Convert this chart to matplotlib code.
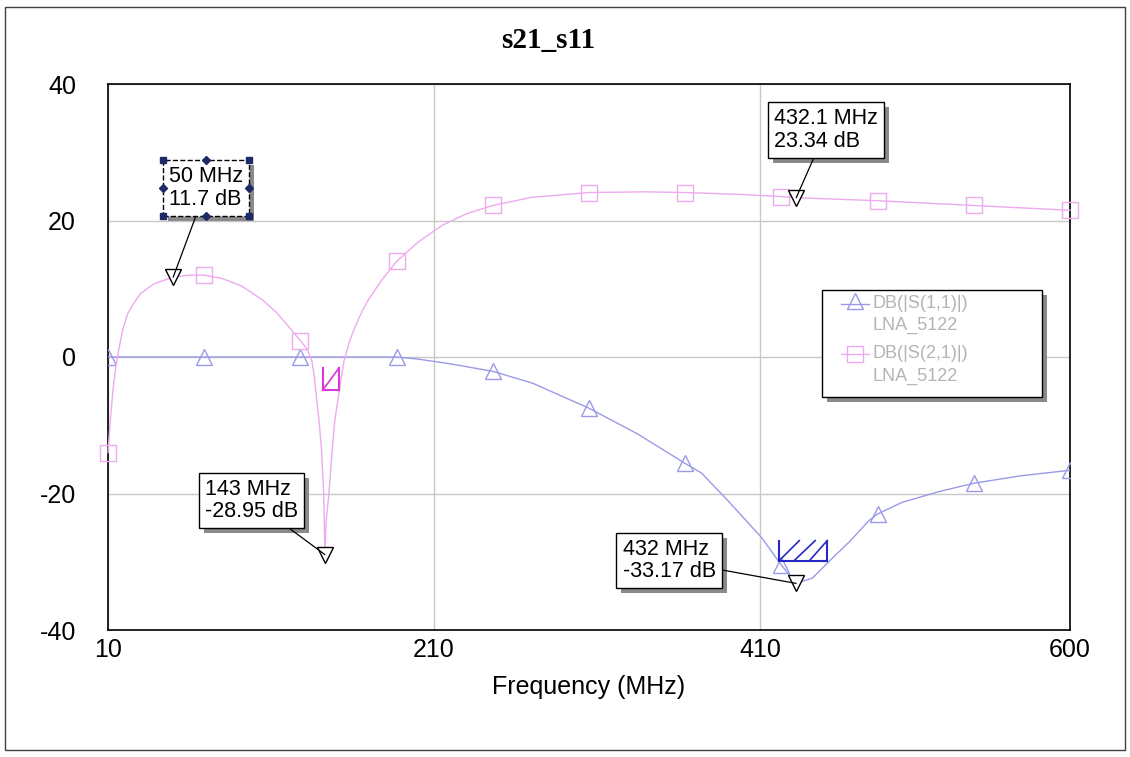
import matplotlib.pyplot as plt
import numpy as np
from matplotlib.patches import Rectangle
from matplotlib.lines import Line2D
from matplotlib.transforms import IdentityTransform

plt.rcParams['font.family'] = ['Liberation Sans', 'DejaVu Sans']
plt.rcParams['axes.unicode_minus'] = False

# DB(|S(2,1)|)
s21_freq = [10, 11.5, 13, 14.5, 16, 19, 22, 25, 30, 38, 45, 50, 60, 69, 80, 92, 104.5, 113, 121, 128,
            132, 135, 136.5, 138, 139.5, 141, 142.3, 143, 143.8, 145.5, 147.5, 149, 151, 153, 154.8,
            158, 161.5, 166, 170, 178, 187, 200, 215, 230, 246, 270, 305, 340, 364, 400, 423, 432.1,
            482, 541, 600]
s21_db = [-14, -9, -5, -2, 0.3, 4, 6.3, 7.6, 9.3, 10.7, 11.3, 11.7, 12.0, 12.0, 11.5, 10.4, 8.4, 6.6, 4.4, 2.4,
          1.2, -0.5, -2.8, -6.3, -9.5, -13.7, -20, -28.95, -24, -20, -13.7, -9.5, -6.3, -3.2, -0.5,
          2.2, 4.4, 6.8, 8.5, 11.3, 14.0, 16.8, 19.3, 21.0, 22.2, 23.4, 24.1, 24.2, 24.1, 23.8, 23.5, 23.34,
          22.9, 22.2, 21.5]

# DB(|S(1,1)|)
s11_freq = [10, 69, 128, 187, 200, 220, 246, 270, 305, 335, 364, 374, 390, 411, 423, 432, 442, 455, 465,
            477, 482, 497, 520, 541, 570, 600]
s11_db = [0, 0, 0, 0, -0.3, -1.0, -2.1, -3.8, -7.5, -11.3, -15.6, -17.0, -21.0, -26.5, -30.5, -33.17, -32.4,
          -29.3, -27.0, -23.9, -23.0, -21.3, -19.7, -18.5, -17.4, -16.6]

# frequencies where the trace symbols sit
symbol_freq = [10, 69, 128, 187, 246, 305, 364, 423, 482, 541, 600]

# marker readouts: (freq, dB, label)
readouts = [(50, 11.7, '50 MHz\n11.7 dB'),
            (143, -28.95, '143 MHz\n-28.95 dB'),
            (432.1, 23.34, '432.1 MHz\n23.34 dB'),
            (432, -33.17, '432 MHz\n-33.17 dB')]
readout_offsets = [(33, 89), (-73, 54), (30, 68), (-127, 23)]

x_ticks = [10, 210, 410, 600]
y_ticks = [-40, -20, 0, 20, 40]

s11_color = '#9a9ae8'
s21_color = '#eeaaee'

W, H = 1130, 757
fig = plt.figure(figsize=(W / 100, H / 100), dpi=100)
ax = fig.add_axes([108 / W, 1 - 630 / H, (1070 - 108) / W, (630 - 84) / H])

ax.set_xlim(10, 600)
ax.set_ylim(-40, 40)
ax.set_xticks(x_ticks)
ax.set_yticks(y_ticks)
ax.tick_params(length=0, labelsize=18)
ax.tick_params(axis='y', pad=23)
ax.tick_params(axis='x', pad=6)
ax.grid(color='#c8c8c8', lw=1)
ax.set_axisbelow(True)
for sp in ax.spines.values():
    sp.set_color('black')
    sp.set_linewidth(1.2)

s21_marks = [i for i, f in enumerate(s21_freq) if f in symbol_freq]
s11_marks = [i for i, f in enumerate(s11_freq) if f in symbol_freq]
ax.plot(s11_freq, s11_db, color=s11_color, lw=1, marker='^', markevery=s11_marks, ms=12,
        mfc='none', mec=s11_color, mew=1, zorder=3)
ax.plot(s21_freq, s21_db, color=s21_color, lw=1, marker='s', markevery=s21_marks, ms=12,
        mfc='none', mec=s21_color, mew=1, zorder=3, clip_on=False)


def goal(x0, x1, y0, y1, lo, hi, color):
    w = x1 - x0
    ax.plot([x0, x0], [y0, y1], color=color, lw=1.5, zorder=4)
    ax.plot([x1, x1], [y0, y1], color=color, lw=1.5, zorder=4)
    ax.plot([x0, x1], [y0, y0], color=color, lw=1.5, zorder=4)
    for a, b in zip(lo, hi):
        ax.plot([x0 + a * w, x0 + b * w], [y0, y1], color=color, lw=1.2, zorder=4)


goal(141.7, 151.7, -4.85, -1.6, [0], [1.0], '#d838d8')
goal(421.6, 451.1, -29.85, -26.9, [0, 0.31, 0.63], [0.42, 0.75, 1.0], '#2828c8')

anns = []
for (f, db, txt), (dx, dy) in zip(readouts, readout_offsets):
    ax.plot([f], [db], marker='v', ms=12, mfc='white', mec='black', mew=1, zorder=6)
    a = ax.annotate(txt, xy=(f, db), xytext=(dx, dy), textcoords='offset pixels',
                    ha='center', va='center', fontsize=15.5, linespacing=1.1,
                    multialignment='left', zorder=8,
                    bbox=dict(boxstyle='square,pad=0.28', fc='white', ec='black', lw=1),
                    arrowprops=dict(arrowstyle='-', color='black', lw=0.9, shrinkA=0, shrinkB=0))
    anns.append(a)
anns[0].get_bbox_patch().set_linestyle('--')

fig.canvas.draw()
renderer = fig.canvas.get_renderer()
for i, a in enumerate(anns):
    ext = a.get_bbox_patch().get_window_extent(renderer)
    sh = Rectangle((ext.x0 + 5, ext.y0 - 5), ext.width, ext.height, transform=IdentityTransform(),
                   fc='#8a8a8a', ec='none', zorder=7, clip_on=False)
    ax.add_artist(sh)
    if i == 0:
        xs = [ext.x0, ext.x1, ext.x0, ext.x1]
        ys = [ext.y0, ext.y0, ext.y1, ext.y1]
        ax.plot(xs, ys, 's', ms=4.5, color='#1c2a66', transform=IdentityTransform(), zorder=9, clip_on=False)
        xm = [(ext.x0 + ext.x1) / 2, (ext.x0 + ext.x1) / 2, ext.x0, ext.x1]
        ym = [ext.y0, ext.y1, (ext.y0 + ext.y1) / 2, (ext.y0 + ext.y1) / 2]
        ax.plot(xm, ym, 'D', ms=4, color='#1c2a66', transform=IdentityTransform(), zorder=9, clip_on=False)


def fx(x):
    return x / W


def fy(y):
    return 1 - y / H


# legend box
fig.add_artist(Rectangle((fx(827), fy(402)), (1042 - 822) / W, (397 - 290) / H, transform=fig.transFigure,
                         fc='#8a8a8a', ec='none', zorder=5))
fig.add_artist(Rectangle((fx(822), fy(397)), (1042 - 822) / W, (397 - 290) / H, transform=fig.transFigure,
                         fc='white', ec='black', lw=1, zorder=6))
fig.add_artist(Line2D([fx(841), fx(869)], [fy(304), fy(304)], transform=fig.transFigure, color=s11_color,
                      lw=1, zorder=7))
fig.add_artist(Line2D([fx(855)], [fy(301)], transform=fig.transFigure, marker='^', ms=12, mfc='none',
                      mec=s11_color, zorder=7))
fig.add_artist(Line2D([fx(841), fx(869)], [fy(354), fy(354)], transform=fig.transFigure, color=s21_color,
                      lw=1, zorder=7))
fig.add_artist(Line2D([fx(855)], [fy(354)], transform=fig.transFigure, marker='s', ms=12, mfc='none',
                      mec=s21_color, zorder=7))
leg_txt = [('DB(|S(1,1)|)', 872, 303), ('LNA_5122', 872, 325), ('DB(|S(2,1)|)', 872, 353), ('LNA_5122', 872, 376)]
for t, x, y in leg_txt:
    fig.text(fx(x), fy(y), t, fontsize=13, color='#b4b4b4', ha='left', va='center', zorder=7)

fig.text(fx(548), fy(40), 's21_s11', fontsize=21, fontweight='bold', family='Liberation Serif',
         ha='center', va='center')
ax.set_xlabel('Frequency (MHz)', fontsize=18)
ax.xaxis.set_label_coords(0.5, -0.082)

# outer frame
fig.add_artist(Rectangle((fx(5), fy(750)), 1120 / W, 743 / H, transform=fig.transFigure,
                         fill=False, ec='#404040', lw=1, zorder=10))

fig.savefig('out.png', dpi=100)
